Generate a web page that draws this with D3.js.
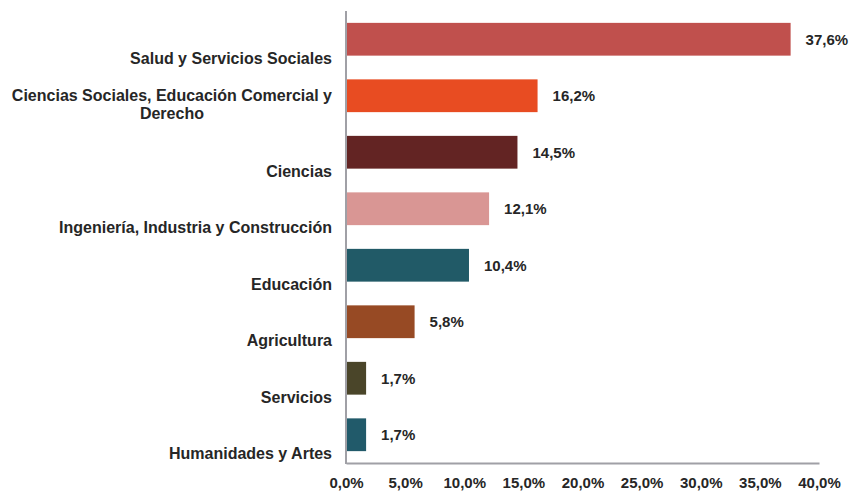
<!DOCTYPE html>
<html><head><meta charset="utf-8">
<script src="https://cdn.jsdelivr.net/npm/d3@7"></script>
<style>body{margin:0;background:#fff}svg{display:block}text{font-family:"Liberation Sans",Arial,sans-serif;font-weight:bold;fill:#262626}</style>
</head><body><svg id="c" width="860" height="491"></svg>
<script>
const categories = [
  ["Salud y Servicios Sociales"],
  ["Ciencias Sociales, Educación Comercial y", "Derecho"],
  ["Ciencias"],
  ["Ingeniería, Industria y Construcción"],
  ["Educación"],
  ["Agricultura"],
  ["Servicios"],
  ["Humanidades y Artes"]
];
const values = [37.6, 16.2, 14.5, 12.1, 10.4, 5.8, 1.7, 1.7];
const colors = ["#C0504D", "#E84C22", "#632423", "#D99694", "#215A67", "#974A24", "#4A4529", "#215A6A"];
const ticks = [0, 5, 10, 15, 20, 25, 30, 35, 40];

const fmt = v => v.toFixed(1).replace(".", ",") + "%";
const svg = d3.select("#c");
const x = d3.scaleLinear().domain([0, 40]).range([346, 819]);
const y = d3.scaleBand().domain(d3.range(categories.length)).range([11, 463]).paddingInner(0.42).paddingOuter(0.21);

svg.selectAll("rect.bar").data(values).join("rect")
  .attr("class", "bar")
  .attr("x", x(0)).attr("y", (d, i) => y(i))
  .attr("width", d => x(d) - x(0)).attr("height", y.bandwidth())
  .attr("fill", (d, i) => colors[i]);

svg.selectAll("text.val").data(values).join("text")
  .attr("class", "val")
  .attr("x", d => x(d) + 15).attr("y", (d, i) => y(i) + y.bandwidth() / 2 + 5.5)
  .attr("font-size", 15).text(d => fmt(d));

// category labels
categories.forEach((lines, i) => {
  const cy = y(i) + y.bandwidth() / 2;
  if (lines.length === 1) {
    svg.append("text").attr("x", 332).attr("y", cy + 24.5)
      .attr("text-anchor", "end").attr("font-size", 16).text(lines[0]);
  } else {
    const t = svg.append("text").attr("font-size", 16).attr("text-anchor", "end").attr("x", 332).attr("y", cy + 5.5).text(lines[0]);
    const w = t.node().getComputedTextLength();
    svg.append("text").attr("font-size", 16).attr("text-anchor", "middle")
      .attr("x", 332 - w / 2).attr("y", cy + 23).text(lines[1]);
  }
});

// axes
const xAxis = d3.axisBottom(x).tickValues(ticks).tickSize(0).tickPadding(0).tickFormat(fmt);
const gx = svg.append("g").attr("transform", "translate(0,463)").call(xAxis);
gx.select(".domain").attr("stroke", "#A0A0A6").attr("stroke-width", 2);
gx.selectAll("text").attr("font-size", 15).attr("dy", null).attr("y", 25)
  .style("font-family", '"Liberation Sans",Arial,sans-serif').style("font-weight", "bold").attr("fill", "#262626");

svg.append("line").attr("x1", 346).attr("x2", 346).attr("y1", 11).attr("y2", 464)
  .attr("stroke", "#A0A0A6").attr("stroke-width", 2);
</script></body></html>
